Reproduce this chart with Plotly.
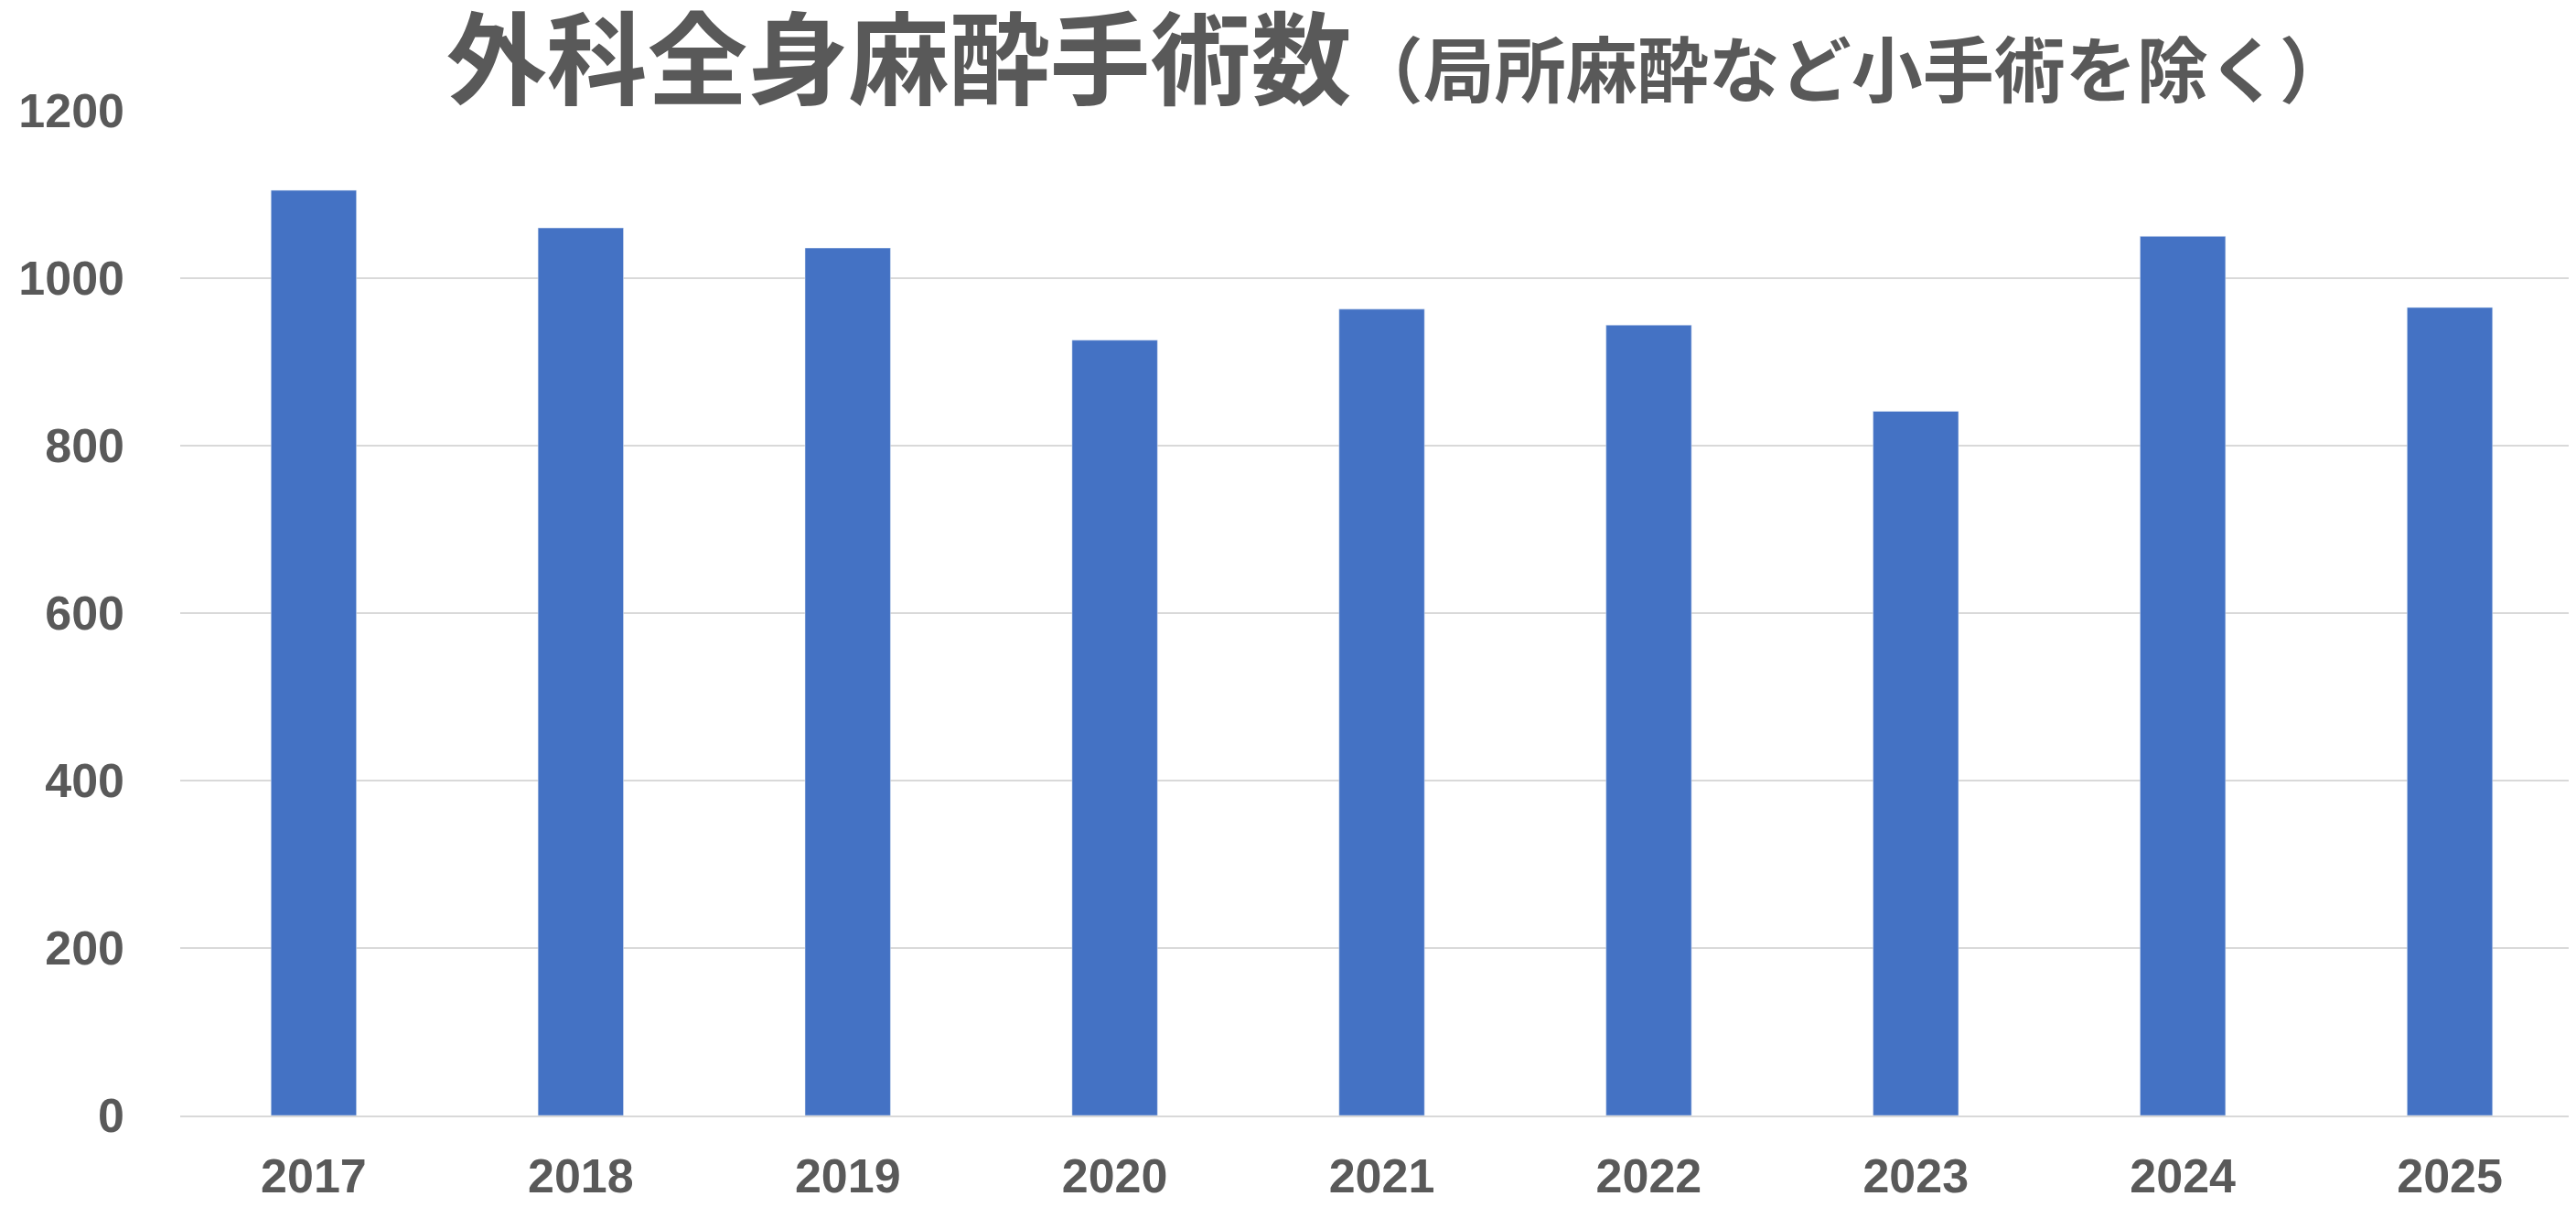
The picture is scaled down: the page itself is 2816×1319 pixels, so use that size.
import plotly.graph_objects as go

years = ["2017", "2018", "2019", "2020", "2021", "2022", "2023", "2024", "2025"]
surgeries = [1105, 1060, 1036, 926, 963, 944, 841, 1050, 965]

fig = go.Figure(go.Bar(x=years, y=surgeries, marker_color="#4472C4", width=0.32))

fig.update_layout(
    width=2816, height=1319,
    paper_bgcolor="white", plot_bgcolor="white",
    margin=dict(l=189, r=0, t=113, b=108),
    title=dict(
        text="外科全身麻酔手術数<span style='font-size:78px'>（局所麻酔など小手術を除く）</span>",
        x=0.54, xanchor="center", y=0.955, yanchor="middle",
        font=dict(family="Noto Sans CJK JP", size=110, color="#595959", weight="bold"),
    ),
    font=dict(family="Liberation Sans", color="#595959"),
    showlegend=False,
)
fig.update_xaxes(tickfont=dict(size=52, weight="bold"), showline=True, linecolor="#D9D9D9",
                 linewidth=2, ticks="", ticklabelstandoff=20)
fig.update_yaxes(range=[0, 1200], dtick=200, tickfont=dict(size=52, weight="bold"),
                 gridcolor="#D9D9D9", gridwidth=2, zeroline=False, ticklabelstandoff=60)

fig.write_html("out.html")
